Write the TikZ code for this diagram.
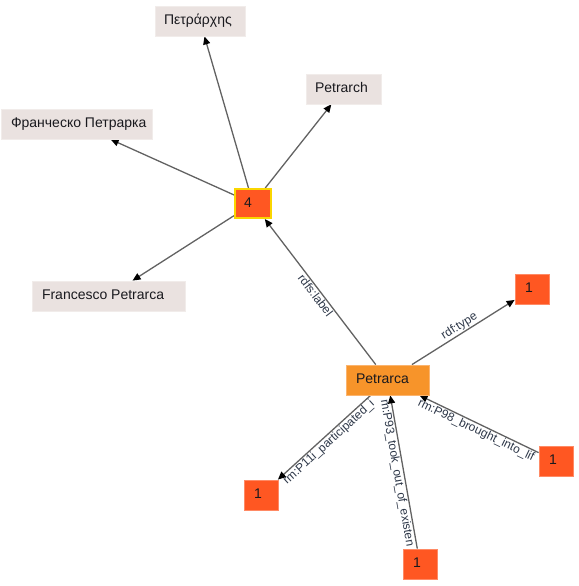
\documentclass[tikz,border=0pt]{standalone}
\usepackage{fontspec}
\setmainfont{Liberation Sans}
\usetikzlibrary{arrows.meta}
\pgfdeclarelayer{bg}
\pgfsetlayers{bg,main}
\definecolor{lightbox}{RGB}{234,226,224}
\definecolor{lightedge}{RGB}{241,236,234}
\definecolor{redorange}{RGB}{255,87,34}
\definecolor{redorangeedge}{RGB}{255,138,101}
\definecolor{petfill}{RGB}{247,148,42}
\definecolor{petedge}{RGB}{251,180,110}
\definecolor{gold}{RGB}{250,214,0}
\definecolor{edgegray}{RGB}{98,98,98}
\definecolor{labtext}{RGB}{45,55,72}
\definecolor{nodetext}{RGB}{25,25,30}
\begin{document}
\begin{tikzpicture}[x=1pt,y=-1pt,
  base/.style={inner sep=0pt, minimum height=30pt, text height=10pt, text depth=3pt,
    font=\fontsize{14}{16}\selectfont, text=nodetext},
  lbox/.style={base, fill=lightbox, draw=lightedge, line width=0.8pt},
  rbox/.style={base, fill=redorange, draw=redorangeedge, line width=0.8pt},
  hub/.style={base, fill=redorange, draw=gold, line width=2pt, minimum height=29pt},
  pbox/.style={base, fill=petfill, draw=petedge, line width=0.8pt},
  conn/.style={draw=edgegray, line width=1.3pt, -{Triangle[length=8pt,width=7pt,color=black]}},
  lab/.style={font=\fontsize{12}{14}\selectfont, text=labtext, inner sep=0.8pt, sloped, midway}
]
\useasboundingbox (0,0) rectangle (578,586);

\node[lbox] (greek) at (200,21) {\makebox[90pt][l]{\hspace{9pt}Πετράρχης}};
\node[lbox] (petrarch) at (343.5,89) {\makebox[75pt][l]{\hspace{9pt}Petrarch}};
\node[lbox] (cyr) at (76.5,124) {\makebox[151pt][l]{\hspace{10pt}Франческо Петрарка}};
\node[lbox] (fran) at (108.5,296) {\makebox[153pt][l]{\hspace{10pt}Francesco Petrarca}};
\node[hub] (four) at (253,203.5) {\makebox[36pt][l]{\hspace{9pt}4}};
\node[rbox] (tone) at (532,289) {\makebox[34pt][l]{\hspace{10pt}1}};
\node[pbox] (pet) at (387.5,380) {\makebox[83pt][l]{\hspace{10pt}Petrarca}};
\node[rbox] (bone) at (261,495) {\makebox[34pt][l]{\hspace{10pt}1}};
\node[rbox] (btwo) at (420,564) {\makebox[34pt][l]{\hspace{10pt}1}};
\node[rbox] (bthree) at (556,461) {\makebox[34pt][l]{\hspace{10pt}1}};

\begin{pgfonlayer}{bg}
\draw[conn] (four) -- (greek);
\draw[conn] (four) -- (petrarch);
\draw[conn] (four) -- (cyr);
\draw[conn] (four) -- (fran);
\draw[conn] (pet) -- node[lab, below] {rdfs:label} (four);
\draw[conn] (pet) -- node[lab, above] {rdf:type} (tone);
\draw[conn] (pet) -- node[lab, below] {rm:P11i\_participated\_i} (bone);
\draw[conn] (btwo) -- node[lab, below] {m:P93\_took\_out\_of\_existen} (pet);
\draw[conn] (bthree) -- node[lab, below] {rm:P98\_brought\_into\_lif} (pet);
\end{pgfonlayer}
\end{tikzpicture}
\end{document}
